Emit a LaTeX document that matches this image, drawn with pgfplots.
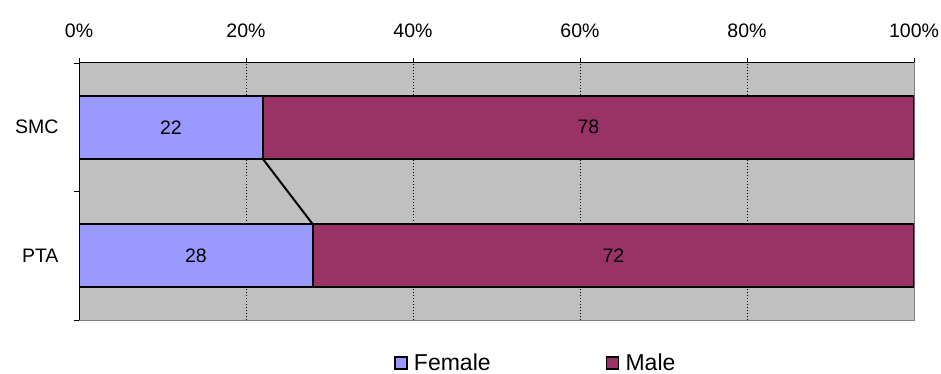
\documentclass[border=0pt]{standalone}
\usepackage{fontspec}
\setmainfont{Liberation Sans}
\usepackage{pgfplots}
\pgfplotsset{compat=1.18}
\definecolor{fem}{HTML}{9999FF}
\definecolor{mal}{HTML}{993366}
\definecolor{bg}{HTML}{C0C0C0}
\definecolor{bord}{HTML}{808080}
\begin{document}
\begin{tikzpicture}
\useasboundingbox (-79bp,-54bp) rectangle (862bp,320bp);
\begin{axis}[
  at={(0,0)}, anchor=south west,
  scale only axis, width=835bp, height=257bp,
  xbar stacked, bar width=0.49,
  xmin=0, xmax=100, ymin=-0.5, ymax=1.5,
  axis background/.style={fill=bg},
  axis line style={draw=bord, line width=1bp},
  xtick={0,20,40,60,80,100},
  xticklabel={\pgfmathprintnumber{\tick}\%},
  xtick pos=upper, xticklabel pos=upper, ytick pos=left,
  ytick={-0.5,0.5,1.5}, yticklabels={},
  extra y ticks={0,1}, extra y tick labels={PTA,SMC},
  extra y tick style={major tick length=0pt, tick style={draw=none}},
  tick align=outside, major tick length=5bp,
  tick style={black, line width=0.8bp},
  xmajorgrids,
  grid style={black, line width=0.6bp, dash pattern=on 1.5bp off 1.5bp},
  /pgf/number format/assume math mode=true,
  tick label style={font=\fontsize{19.5bp}{22bp}\selectfont},
  xticklabel style={yshift=17bp},
  yticklabel style={xshift=-17bp},
  legend style={draw=none, fill=none, at={(0.547,-0.167)}, anchor=center,
    font=\fontsize{23bp}{26bp}\selectfont,
    /tikz/every even column/.append style={column sep=113bp}},
  legend columns=2,
  legend image code/.code={\draw[#1, draw=black, line width=1.8bp] (0bp,-6bp) rectangle (12bp,6bp); \path (16bp,0bp);},
  nodes near coords,
  every node near coord/.append style={font=\fontsize{19.5bp}{22bp}\selectfont, text=black},
]
\addplot[fill=fem, draw=black, line width=2bp, point meta=explicit symbolic] coordinates {(28,0) [28] (22,1) [22]};
\addplot[fill=mal, draw=black, line width=2bp, point meta=explicit symbolic] coordinates {(72,0) [72] (78,1) [78]};
\addplot[sharp plot, stack plots=false, draw=black, fill=none, line width=2bp, forget plot, nodes near coords=] coordinates {(22,0.755) (28,0.245)};
\legend{Female, Male}
\draw[black, line width=1bp] (rel axis cs:0,0) -- (rel axis cs:0,1) -- (rel axis cs:1,1);
\end{axis}
\end{tikzpicture}
\end{document}
